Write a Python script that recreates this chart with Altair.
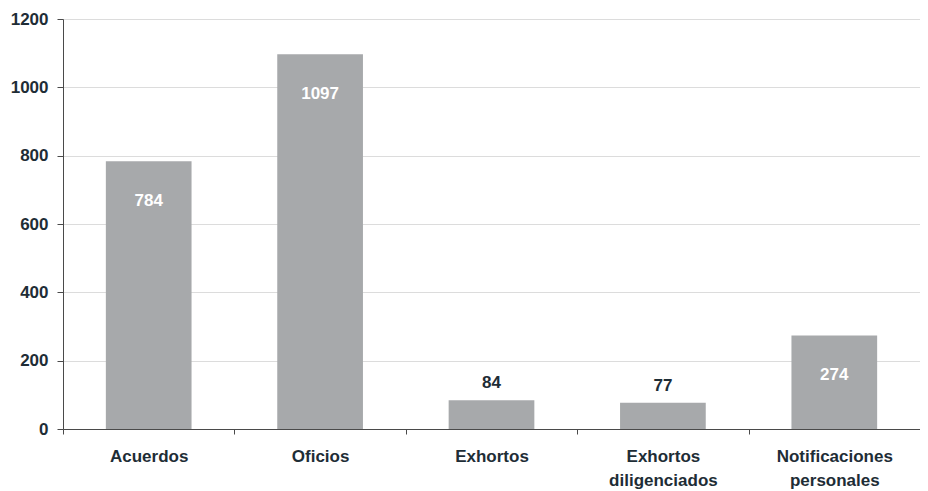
import altair as alt
import pandas as pd

categories = ["Acuerdos", "Oficios", "Exhortos", "Exhortos diligenciados", "Notificaciones personales"]
values = [784, 1097, 84, 77, 274]

df = pd.DataFrame({"cat": categories, "value": values})

TXT = "#1e2d36"
FONT = "Liberation Sans"
FS = 17

x = alt.X("cat:N", sort=categories, title=None,
          scale=alt.Scale(paddingInner=0, paddingOuter=0),
          axis=alt.Axis(labelAngle=0, labelExpr="split(datum.label, ' ')",
                        tickBand="extent", labelFontSize=FS, labelFontWeight="bold",
                        labelColor=TXT, labelFont=FONT, labelPadding=14, labelLineHeight=24,
                        domainColor="#4a4a4a", tickColor="#4a4a4a", tickSize=5, grid=False))
y = alt.Y("value:Q", title=None,
          scale=alt.Scale(domain=[0, 1200]),
          axis=alt.Axis(values=[0, 200, 400, 600, 800, 1000, 1200], format="d", labelFontSize=FS,
                        labelFontWeight="bold", labelColor=TXT, labelFont=FONT,
                        labelPadding=9, domainColor="#4a4a4a", tickColor="#4a4a4a",
                        tickSize=6, gridColor="#dcdcdc", gridWidth=1))

base = alt.Chart(df)
bars = base.mark_bar(color="#a7a9ab", width={"band": 0.5}).encode(x=x, y=y)
inside = base.transform_filter("datum.value > 200").mark_text(
    color="white", fontSize=FS, fontWeight="bold", font=FONT, baseline="middle", dy=40
).encode(x=x, y=y, text="value:Q")
above = base.transform_filter("datum.value <= 200").mark_text(
    color=TXT, fontSize=FS, fontWeight="bold", font=FONT, baseline="middle", dy=-17
).encode(x=x, y=y, text="value:Q")

chart = (bars + inside + above).properties(
    width=857, height=410,
    autosize=alt.AutoSizeParams(type="none"),
    padding={"left": 55, "top": 11, "right": 0, "bottom": 66},
).configure_view(stroke=None).configure(background="white")

chart.save("out.html", embed_options={"renderer": "svg", "actions": False})
